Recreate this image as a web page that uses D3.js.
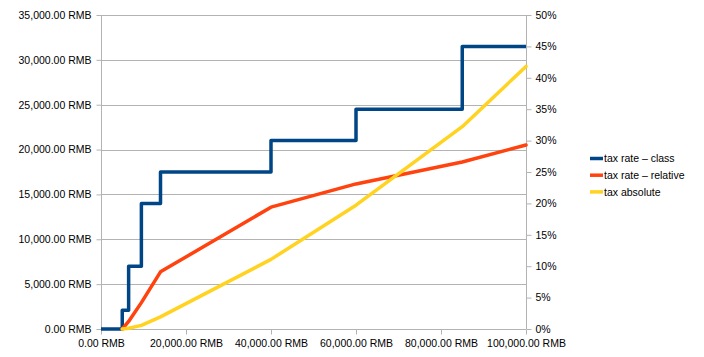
<!DOCTYPE html>
<html><head><meta charset="utf-8">
<script src="https://cdn.jsdelivr.net/npm/d3@7"></script>
<style>
body{margin:0;background:#fff;}
text{font-family:"Liberation Sans",Arial,sans-serif;font-size:10.5px;fill:#000;}
</style></head>
<body><svg id="c" width="704" height="357"></svg>
<script>
// income sample points (RMB)
const income = [0, 5000, 6500, 9500, 14000, 40000, 60000, 85000, 100000];
// tax rate class (%), step after each point
const rateClass = [0, 3, 10, 20, 25, 30, 35, 45, 45];
// relative tax rate (%), from 5000 on
const rateRelative = [null, 0, 1.2, 4.2, 9.1, 19.4, 23.1, 26.6, 29.3];
// absolute tax (RMB), from 5000 on
const taxAbsolute = [null, 0, 80, 400, 1350, 7760, 13800, 22550, 29270];
const leftTicks = [0, 5000, 10000, 15000, 20000, 25000, 30000, 35000];
const rightTicks = [0, 5, 10, 15, 20, 25, 30, 35, 40, 45, 50];
const xTicks = [0, 20000, 40000, 60000, 80000, 100000];
const seriesNames = ["tax rate \u2013 class", "tax rate \u2013 relative", "tax absolute"];
const colors = ["#004586", "#ff420e", "#ffd320"];

const svg = d3.select("#c");
const L = 101, R = 526, T = 15, B = 329;
const x = d3.scaleLinear().domain([0, 100000]).range([L, R]);
const yL = d3.scaleLinear().domain([0, 35000]).range([B, T]);
const yR = d3.scaleLinear().domain([0, 50]).range([B, T]);
const grid = "#b3b3b3";
const fmtRMB = v => d3.format(",.2f")(v) + " RMB";

// gridlines
svg.append("g").selectAll("line").data(leftTicks).join("line")
  .attr("x1", L).attr("x2", R).attr("y1", d => Math.round(yL(d)) + 0.5).attr("y2", d => Math.round(yL(d)) + 0.5)
  .attr("stroke", grid).attr("stroke-width", 1);

// axes
const axL = svg.append("g").attr("transform", `translate(${L + 0.5},0)`)
  .call(d3.axisLeft(yL).tickValues(leftTicks).tickFormat(fmtRMB).tickSize(5).tickPadding(5));
const axR = svg.append("g").attr("transform", `translate(${R + 0.5},0)`)
  .call(d3.axisRight(yR).tickValues(rightTicks).tickFormat(d => d + "%").tickSize(5).tickPadding(4));
const axB = svg.append("g").attr("transform", `translate(0,${B + 0.5})`)
  .call(d3.axisBottom(x).tickValues(xTicks).tickFormat(fmtRMB).tickSize(5).tickPadding(5));
[axL, axR, axB].forEach(a => {
  a.select(".domain").attr("stroke", grid).attr("stroke-width", 1);
  a.selectAll(".tick line").attr("stroke", grid);
  a.selectAll("text").attr("font-family", null).attr("font-size", null).attr("fill", "#000");
});
axL.select(".domain").attr("d", `M0,${B}V${T}`);
axR.select(".domain").attr("d", `M0,${B}V${T}`);
axB.select(".domain").attr("d", `M${L},0H${R}`);

// series
const pts = (vals, ys) => income.map((v, i) => [v, vals[i]]).filter(p => p[1] !== null).map(p => [x(p[0]), ys(p[1])]);
const lineStep = d3.line().curve(d3.curveStepAfter);
const lineLin = d3.line();
svg.append("path").attr("d", lineStep(pts(rateClass, yR))).attr("fill", "none")
  .attr("stroke", colors[0]).attr("stroke-width", 3.5).attr("stroke-linejoin", "round");
svg.append("path").attr("d", lineLin(pts(rateRelative, yR))).attr("fill", "none")
  .attr("stroke", colors[1]).attr("stroke-width", 3.5).attr("stroke-linejoin", "round").attr("stroke-linecap", "round");
svg.append("path").attr("d", lineLin(pts(taxAbsolute, yL))).attr("fill", "none")
  .attr("stroke", colors[2]).attr("stroke-width", 3.5).attr("stroke-linejoin", "round").attr("stroke-linecap", "round");

// legend
const lg = svg.append("g").selectAll("g").data(seriesNames).join("g")
  .attr("transform", (d, i) => `translate(590,${158.5 + i * 16.7})`);
lg.append("line").attr("x1", 0).attr("x2", 13).attr("stroke", (d, i) => colors[i]).attr("stroke-width", 3.5);
lg.append("text").attr("x", 14).attr("dy", "0.35em").text(d => d);
</script></body></html>
